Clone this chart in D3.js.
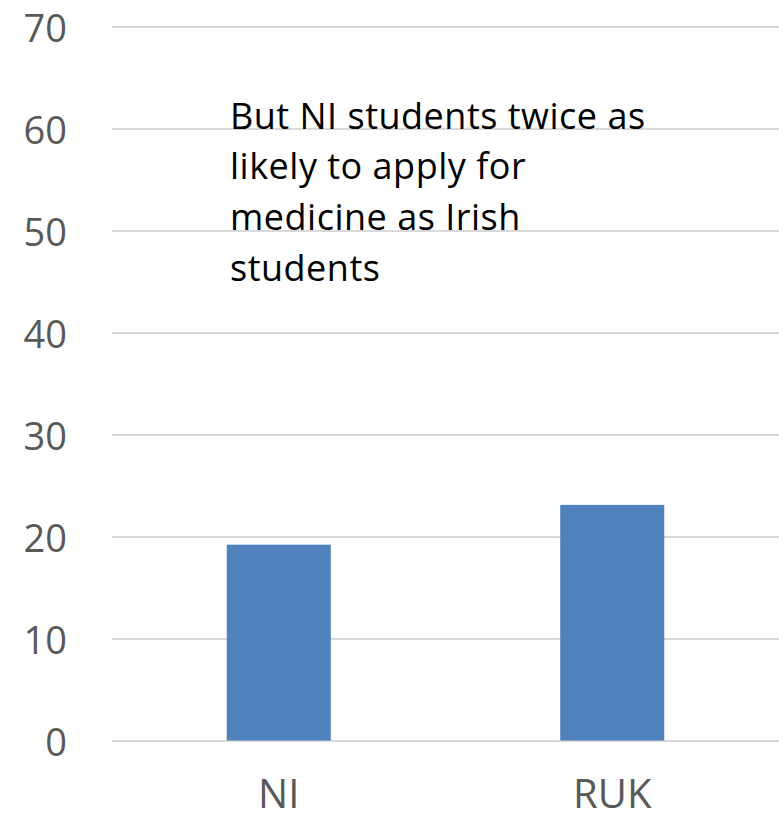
<!DOCTYPE html>
<html>
<head>
<meta charset="utf-8">
<script src="https://cdn.jsdelivr.net/npm/d3@7"></script>
<style>
  html, body { margin: 0; padding: 0; background: #fff; }
  svg { display: block; }
</style>
</head>
<body>
<svg id="chart" width="779" height="820"></svg>
<script>
// Share of applicants by region
const categories = ["NI", "RUK"];
const values = [19.2, 23.1];
const yTicks = [0, 10, 20, 30, 40, 50, 60, 70];
const noteLines = [
  "But NI students twice as",
  "likely to apply for",
  "medicine as Irish",
  "students"
];

const svg = d3.select("#chart");
const plot = { left: 112, right: 779, top: 26.5, bottom: 740.5 };

const x = d3.scaleBand()
  .domain(categories)
  .range([plot.left, plot.right])
  .paddingInner(0.688)
  .paddingOuter(0.344);

const y = d3.scaleLinear()
  .domain([0, 70])
  .range([plot.bottom, plot.top]);

// horizontal gridlines with tick labels on the left
const yAxis = d3.axisLeft(y)
  .tickValues(yTicks)
  .tickSize(-(plot.right - plot.left))
  .tickPadding(45)
  .tickFormat(d3.format("d"));

const gy = svg.append("g")
  .attr("transform", `translate(${plot.left},0)`)
  .call(yAxis);
gy.select(".domain").remove();
gy.selectAll(".tick line")
  .attr("stroke", "#d9d9d9")
  .attr("stroke-width", 2);
gy.selectAll(".tick text")
  .attr("fill", "#595959")
  .attr("dy", "14.5px")
  .style("font-family", "'Open Sans', sans-serif")
  .style("font-size", "38px");

// bars
svg.append("g")
  .selectAll("rect")
  .data(categories)
  .join("rect")
  .attr("x", d => x(d))
  .attr("width", x.bandwidth())
  .attr("y", (d, i) => y(values[i]))
  .attr("height", (d, i) => y(0) - y(values[i]))
  .attr("fill", "#4f81bd");

// category axis labels
const xAxis = d3.axisBottom(x).tickSize(0).tickPadding(39);
const gx = svg.append("g")
  .attr("transform", `translate(0,${plot.bottom})`)
  .call(xAxis);
gx.select(".domain").remove();
gx.selectAll(".tick text")
  .attr("fill", "#595959")
  .style("font-family", "'Open Sans', sans-serif")
  .style("font-size", "40px");

// annotation text
const note = svg.append("text")
  .attr("x", 230)
  .attr("y", 128.5)
  .attr("fill", "#000")
  .style("font-family", "'Open Sans', sans-serif")
  .style("font-size", "36px")
  .style("letter-spacing", "0.5px");
note.selectAll("tspan")
  .data(noteLines)
  .join("tspan")
  .attr("x", 230)
  .attr("dy", (d, i) => i === 0 ? 0 : 50.8)
  .text(d => d);
</script>
</body>
</html>
